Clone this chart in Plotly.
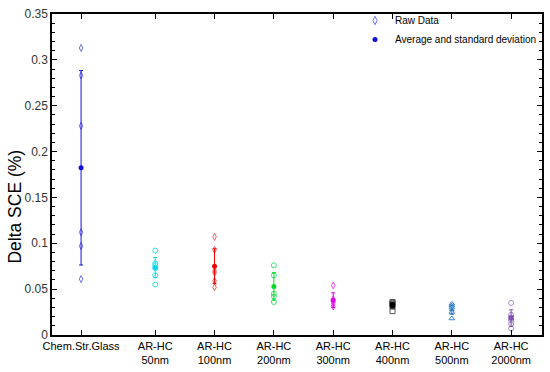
import plotly.graph_objects as go

categories = ["Chem.Str.Glass", "AR-HC<br>50nm", "AR-HC<br>100nm", "AR-HC<br>200nm",
              "AR-HC<br>300nm", "AR-HC<br>400nm", "AR-HC<br>500nm", "AR-HC<br>2000nm"]
positions = [0, 1.25, 2.25, 3.25, 4.25, 5.25, 6.25, 7.25]

raw_chem = [0.313, 0.283, 0.228, 0.112, 0.097, 0.061]
raw_50 = [0.092, 0.078, 0.076, 0.073, 0.065, 0.055]
raw_100 = [0.107, 0.093, 0.070, 0.068, 0.059, 0.052]
raw_200 = [0.076, 0.065, 0.045, 0.042, 0.036]
raw_300 = [0.054, 0.039, 0.036, 0.035, 0.033, 0.031]
raw_400 = [0.036, 0.035, 0.034, 0.033, 0.031, 0.026]
raw_500 = [0.034, 0.032, 0.030, 0.025, 0.018]
raw_2000 = [0.035, 0.022, 0.019, 0.016, 0.012, 0.007]

means = [0.1823, 0.0735, 0.075, 0.053, 0.038, 0.0325, 0.0275, 0.0185]
stds = [0.106, 0.011, 0.019, 0.015, 0.008, 0.003, 0.005, 0.009]

raws = [raw_chem, raw_50, raw_100, raw_200, raw_300, raw_400, raw_500, raw_2000]
raw_colors = ["#7070f0", "#33e0ee", "#f06060", "#40dd70", "#f050f0", "#555555", "#3c86d0", "#a888cc"]
mean_colors = ["#1010d8", "#00d8e8", "#ee0000", "#00dd22", "#e000e0", "#000000", "#2f7cc8", "#8050b0"]
raw_symbols = ["diamond-tall-open", "circle-open", "diamond-tall-open", "circle-open", "diamond-tall-open",
               "square-open", "triangle-up-open", "circle-open"]
mean_symbols = ["circle", "circle", "circle", "circle", "circle", "square", "triangle-up", "square"]

fig = go.Figure()
for i in range(len(categories)):
    fig.add_trace(go.Scatter(
        x=[positions[i]] * len(raws[i]), y=raws[i], mode="markers",
        marker=dict(symbol=raw_symbols[i], size=5, color=raw_colors[i], line=dict(width=1)),
        name="Raw Data", showlegend=False))
for i in range(len(categories)):
    fig.add_trace(go.Scatter(
        x=[positions[i]], y=[means[i]], mode="markers",
        marker=dict(symbol=mean_symbols[i], size=5, color=mean_colors[i]),
        error_y=dict(type="data", array=[stds[i]], color=mean_colors[i], thickness=1, width=2),
        name="Average and standard deviation", showlegend=False))

# legend entries
fig.add_trace(go.Scatter(x=[None], y=[None], mode="markers", name="Raw Data",
                         marker=dict(symbol="diamond-tall-open", size=6, color=raw_colors[0],
                                     line=dict(width=1))))
fig.add_trace(go.Scatter(x=[None], y=[None], mode="markers", name="Average and standard deviation",
                         marker=dict(symbol="circle", size=5, color=mean_colors[0])))

fig.update_layout(
    width=550, height=372,
    margin=dict(l=52, r=6, t=8, b=37),
    paper_bgcolor="white", plot_bgcolor="white",
    font=dict(family="Arial, Liberation Sans", size=11, color="black"),
    legend=dict(x=1.0, y=1.025, xanchor="right", yanchor="top", bgcolor="rgba(0,0,0,0)",
                font=dict(size=10), traceorder="normal", tracegroupgap=0),
    xaxis=dict(range=[-0.49, 7.77], tickvals=positions, ticktext=categories,
               showline=True, linecolor="black", linewidth=1.5, mirror="ticks",
               ticks="inside", ticklen=5, tickcolor="black", showgrid=False, zeroline=False,
               tickfont=dict(size=11, color="black")),
    yaxis=dict(range=[0, 0.35], dtick=0.05, tickformat="~g",
               showline=True, linecolor="black", linewidth=1.5, mirror="ticks",
               ticks="inside", ticklen=5, tickcolor="black", showgrid=False, zeroline=False,
               tickfont=dict(size=12, color="#333333"),
               minor=dict(dtick=0.01, ticks="inside", ticklen=3, tickcolor="black")),
    annotations=[dict(text="Delta SCE (%)", xref="paper", yref="paper", x=0, y=0.4,
                      xanchor="center", yanchor="middle", xshift=-37, textangle=-90,
                      showarrow=False, font=dict(size=17.5, color="black"))],
)

fig.write_html("out.html", config={"displayModeBar": False},
               post_script="document.body.style.margin='0';")
